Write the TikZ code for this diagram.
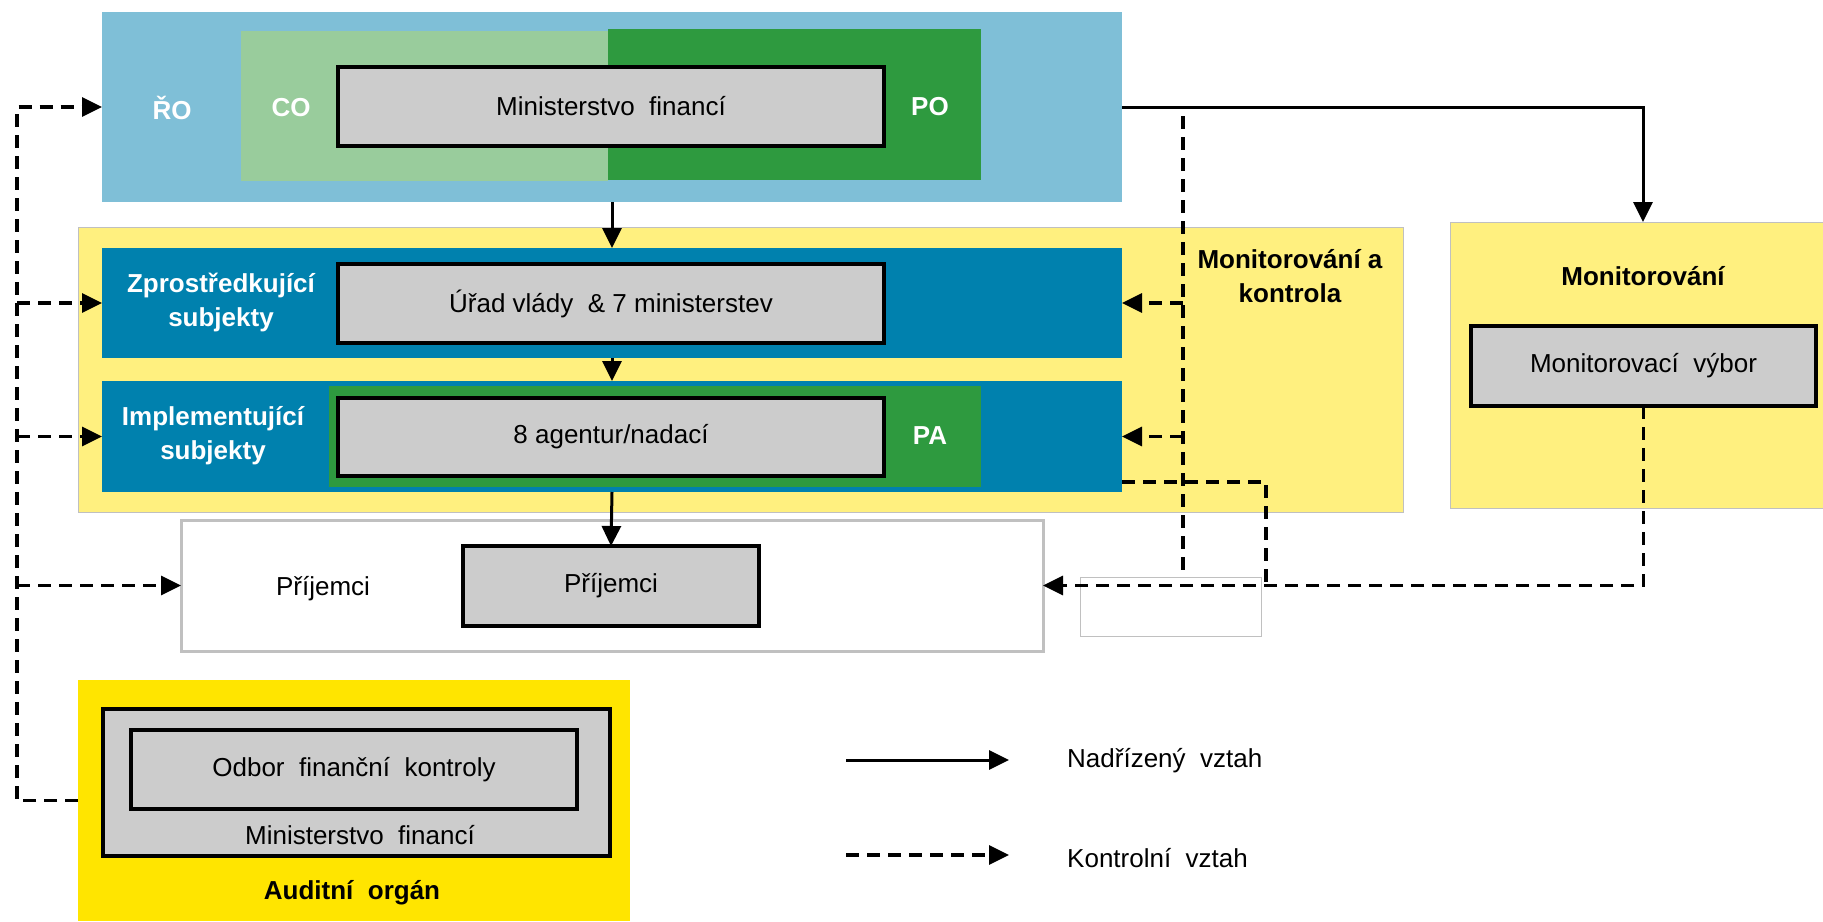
\documentclass[tikz,border=0pt]{standalone}
\usepackage{fontspec}
\setmainfont{Liberation Sans}
\usetikzlibrary{arrows.meta}
\definecolor{roblue}{HTML}{7FBFD7}
\definecolor{lgreen}{HTML}{99CC9C}
\definecolor{dgreen}{HTML}{2E9A3F}
\definecolor{pyellow}{HTML}{FFF07F}
\definecolor{dblue}{HTML}{0081AE}
\definecolor{boxgrey}{HTML}{CCCCCC}
\definecolor{ayellow}{HTML}{FFE500}
\definecolor{lgrey}{HTML}{C0C0C0}
\begin{document}
\begin{tikzpicture}[x=1pt,y=-1pt,
  area/.style={inner sep=0pt, outer sep=0pt, draw=none},
  graybox/.style={fill=boxgrey, draw=black, line width=4pt, inner sep=0pt, outer sep=0pt, font=\fontsize{26}{32}\selectfont},
  tx/.style={inner sep=0pt, font=\fontsize{26}{34}\selectfont, align=center},
  wl/.style={inner sep=0pt, text=white, font=\fontsize{26}{34}\selectfont\bfseries, align=center},
  bl/.style={inner sep=0pt, text=black, font=\fontsize{26}{34}\selectfont\bfseries, align=center},
  sup/.style={line width=3pt, -{Triangle[length=20pt,width=19pt]}},
  supline/.style={line width=3pt},
  ctl/.style={line width=3.3pt, dash pattern=on 13pt off 8pt, -{Triangle[length=20pt,width=19pt]}},
  ctlline/.style={line width=3.3pt, dash pattern=on 13pt off 8pt}
]
\useasboundingbox (0,0) rectangle (1823,921);
\clip (0,0) rectangle (1823,921);

% top managing authority
\node[area, fill=roblue, minimum width=1020pt, minimum height=190pt] (ro) at (612,107) {};
\node[area, fill=lgreen, minimum width=367pt, minimum height=150pt] (co) at (424.5,106) {};
\node[area, fill=dgreen, minimum width=373pt, minimum height=151pt] (po) at (794.5,104.5) {};
\node[graybox, minimum width=546pt, minimum height=79pt] (mf) at (611,106.5) {Ministerstvo\ \ financí};
\node[wl] (rol) at (172,108) {ŘO};
\node[wl] (col) at (291,108) {CO};
\node[wl] (pol) at (930,107) {PO};

% monitoring and control area
\node[area, fill=pyellow, draw=lgrey, line width=1pt, minimum width=1325pt, minimum height=285pt] (mk) at (740.5,369.5) {};
\node[area, fill=dblue, minimum width=1020pt, minimum height=110pt] (zs) at (612,303) {};
\node[graybox, minimum width=546pt, minimum height=79pt] (uv) at (611,303.5) {Úřad vlády\ \ \&\ 7 ministerstev};
\node[area, fill=dblue, minimum width=1020pt, minimum height=111pt] (is) at (612,436.5) {};
\node[area, fill=dgreen, minimum width=652pt, minimum height=101pt] (pa) at (655,436.5) {};
\node[graybox, minimum width=546pt, minimum height=78pt] (ag) at (611,437) {8 agentur/nadací};
\node[wl] (zsl) at (221,302) {Zprostředkující\\subjekty};
\node[wl] (isl) at (213,436) {Implementující\\subjekty};
\node[wl] (pal) at (930,436) {PA};
\node[bl] (mkl) at (1290,276) {Monitorování a\\kontrola};

% monitoring
\node[area, fill=pyellow, draw=lgrey, line width=1pt, minimum width=386pt, minimum height=286pt] (mon) at (1643,365) {};
\node[bl] (monl) at (1643,276) {Monitorování};
\node[graybox, minimum width=345pt, minimum height=80pt] (mv) at (1643.5,366) {Monitorovací\ \ výbor};

% recipients
\node[area, fill=white, draw=lgrey, line width=3pt, minimum width=862pt, minimum height=131pt] (pr) at (612,585.5) {};
\node[tx] (prl) at (323,589) {Příjemci};
\node[graybox, minimum width=296pt, minimum height=80pt] (pri) at (611,586) {Příjemci};
\node[area, fill=white, draw=lgrey, line width=1pt, minimum width=181pt, minimum height=59pt] (wb) at (1170.5,606.5) {};

% audit authority
\node[area, fill=ayellow, minimum width=552pt, minimum height=241pt] (ao) at (354,800.5) {};
\node[graybox, minimum width=507pt, minimum height=147pt] (amf) at (356.5,782.5) {};
\node[graybox, minimum width=446pt, minimum height=79pt] (ofk) at (354,769.5) {Odbor\ \ finanční\ \ kontroly};
\node[tx] (amfl) at (360,835) {Ministerstvo\ \ financí};
\node[bl] (aol) at (352,893) {Auditní\ \ orgán};

% superior relations
\draw[sup] (ro.east) -| (mon.north);
\draw[sup] (ro.south) -- (zs.north);
\draw[sup] (zs.south) -- (is.north);
\draw[sup] (is.south) -- (pri.north);

% control relations, left bus
\coordinate (lb) at (17,802);
\draw[ctl] (ao.west) -- (lb |- ao.west) -- (lb |- ro.west) -- (ro.west);
\draw[ctl] (lb |- zs.west) -- (zs.west);
\draw[ctl] (lb |- is.west) -- (is.west);
\draw[ctl] (lb |- pr.west) -- (pr.west);

% control relations, right side
\coordinate (rt) at (1183,116);
\draw[ctlline] (rt) -- (rt |- wb.north);
\draw[ctl] (rt |- zs.east) -- (zs.east);
\draw[ctl] (rt |- is.east) -- (is.east);
\coordinate (ib) at (1266,482);
\draw[ctlline] ([yshift=10pt]is.south east) -- (ib) -- (ib |- pr.east);
\draw[ctl] (mv.south) |- (pr.east);

% legend
\coordinate (l1a) at (846,760);
\coordinate (l1b) at (1009,760);
\coordinate (l2a) at (846,855);
\coordinate (l2b) at (1009,855);
\draw[sup] (l1a) -- (l1b);
\draw[ctl] (l2a) -- (l2b);
\node[tx, anchor=west] (lg1) at (1067,761) {Nadřízený\ \ vztah};
\node[tx, anchor=west] (lg2) at (1067,858) {Kontrolní\ \ vztah};
\end{tikzpicture}
\end{document}
